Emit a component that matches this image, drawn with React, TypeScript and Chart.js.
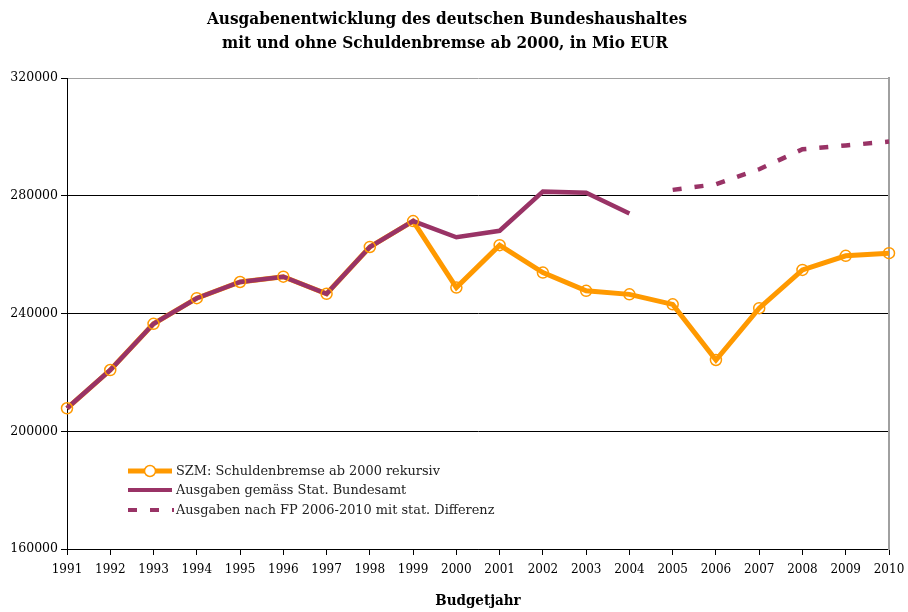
import React, { useEffect, useRef } from "react";
import { Chart, registerables } from "chart.js";

Chart.register(...registerables);

const years = ["1991","1992","1993","1994","1995","1996","1997","1998","1999","2000","2001","2002","2003","2004","2005","2006","2007","2008","2009","2010"];
const szm = [207800, 220800, 236500, 245200, 250700, 252500, 246700, 262600, 271400, 248800, 263200, 253900, 247700, 246500, 243100, 224200, 241800, 254800, 259600, 260500];
const statBA = [207800, 220800, 236500, 245200, 250700, 252500, 246700, 262600, 271400, 265900, 268100, 281400, 281000, 274000, null, null, null, null, null, null];
const fpDiff = [null, null, null, null, null, null, null, null, null, null, null, null, null, null, 282000, 283900, 289000, 295800, 297100, 298400];
const titleLines = ["Ausgabenentwicklung des deutschen Bundeshaushaltes", "mit und ohne Schuldenbremse ab 2000, in Mio EUR"];
const xTitle = "Budgetjahr";
const legendLabels = ["SZM: Schuldenbremse ab 2000 rekursiv", "Ausgaben gemäss Stat. Bundesamt", "Ausgaben nach FP 2006-2010 mit stat. Differenz"];

const ORANGE = "#FF9900";
const PURPLE = "#993366";
const SERIF = "'DejaVu Serif', 'Liberation Serif', serif";
const TITLE_FONT = "'DejaVu Serif Condensed', 'Liberation Serif', serif";

const titlePlugin = {
  id: "customTitle",
  afterDraw(chart: any) {
    const ctx = chart.ctx;
    ctx.save();
    ctx.fillStyle = "#000";
    ctx.font = `bold 17px ${TITLE_FONT}`;
    ctx.textAlign = "center";
    ctx.textBaseline = "middle";
    ctx.fillText(titleLines[0], 447, 20);
    ctx.fillText(titleLines[1], 445, 44);
    ctx.restore();
  },
};

const legendPlugin = {
  id: "customLegend",
  afterDatasetsDraw(chart: any) {
    const ctx = chart.ctx;
    const x0 = 128, x1 = 172, tx = 176;
    const rows = [471, 490, 510];
    ctx.save();
    ctx.lineCap = "butt";
    ctx.strokeStyle = ORANGE;
    ctx.lineWidth = 5;
    ctx.beginPath(); ctx.moveTo(x0, rows[0]); ctx.lineTo(x1, rows[0]); ctx.stroke();
    ctx.lineWidth = 1.5;
    ctx.fillStyle = "#fff";
    ctx.beginPath(); ctx.arc(150, rows[0], 5.5, 0, Math.PI * 2); ctx.fill(); ctx.stroke();
    ctx.strokeStyle = PURPLE;
    ctx.lineWidth = 4;
    ctx.beginPath(); ctx.moveTo(x0, rows[1]); ctx.lineTo(x1, rows[1]); ctx.stroke();
    ctx.setLineDash([9, 13]);
    ctx.beginPath(); ctx.moveTo(x0, rows[2]); ctx.lineTo(x1 + 2, rows[2]); ctx.stroke();
    ctx.setLineDash([]);
    ctx.fillStyle = "#222";
    ctx.font = `12.9px ${SERIF}`;
    ctx.textAlign = "left";
    ctx.textBaseline = "middle";
    legendLabels.forEach((t, i) => ctx.fillText(t, tx, rows[i] + 1));
    ctx.restore();
  },
};

export default function App() {
  const ref = useRef<HTMLCanvasElement>(null);
  useEffect(() => {
    const canvas = ref.current!;
    const chart = new Chart(canvas, {
      type: "line",
      data: {
        labels: years,
        datasets: [
          { label: legendLabels[0], data: szm, borderColor: ORANGE, borderWidth: 5, pointRadius: 0, tension: 0, order: 3 },
          { label: legendLabels[1], data: statBA as any, borderColor: PURPLE, borderWidth: 4.5, pointRadius: 0, tension: 0, order: 2, spanGaps: false },
          { label: legendLabels[2], data: fpDiff as any, borderColor: PURPLE, borderWidth: 4.5, borderDash: [9, 13], borderCapStyle: "butt", pointRadius: 0, tension: 0, order: 2 },
          { label: "szm-points", data: szm, showLine: false, pointRadius: 5.5, pointBorderWidth: 1.5, pointBorderColor: ORANGE, pointBackgroundColor: "rgba(0,0,0,0)", order: 0 },
        ],
      },
      options: {
        responsive: false,
        animation: false,
        devicePixelRatio: 1,
        layout: { autoPadding: false, padding: { left: 0, right: 0, top: 78, bottom: 0 } },
        plugins: { legend: { display: false }, title: { display: false }, tooltip: { enabled: false } },
        scales: {
          x: {
            type: "category",
            offset: false,
            grid: { display: true, drawOnChartArea: false, drawTicks: true, tickLength: 6, color: "#000" },
            border: { display: true, color: "#000", width: 1 },
            ticks: { color: "#000", font: { family: SERIF, size: 12 }, padding: 8, maxRotation: 0, autoSkip: false },
            title: { display: true, text: xTitle, color: "#000", font: { family: TITLE_FONT, size: 15, weight: "bold" }, padding: { top: 0, bottom: 2 } },
            afterFit: (s: any) => { s.height = 63; s.paddingLeft = 0; s.paddingRight = 0; },
          },
          y: {
            min: 160000,
            max: 320000,
            ticks: { stepSize: 40000, color: "#000", font: { family: SERIF, size: 12.5 }, padding: 3, callback: (v: any) => String(v) },
            grid: { color: (c: any) => (c.tick && c.tick.value === 320000 ? "#a0a0a0" : "#000"), lineWidth: 1, tickLength: 6, tickColor: "#000" },
            border: { display: true, color: "#000", width: 1 },
            afterFit: (s: any) => { s.width = 67; s.paddingTop = 0; s.paddingBottom = 0; },
          },
          y2: {
            position: "right",
            min: 160000,
            max: 320000,
            ticks: { display: false },
            grid: { drawOnChartArea: false, drawTicks: false },
            border: { display: true, color: "#a0a0a0", width: 2 },
            afterFit: (s: any) => { s.width = 19; s.paddingTop = 0; s.paddingBottom = 0; },
          },
        },
      },
      plugins: [titlePlugin, legendPlugin],
    } as any);
    return () => chart.destroy();
  }, []);
  return (
    <div style={{ position: "fixed", left: 0, top: 0, width: 908, height: 612, background: "#fff" }}>
      <canvas ref={ref} width={908} height={612} style={{ width: 908, height: 612 }} />
    </div>
  );
}
